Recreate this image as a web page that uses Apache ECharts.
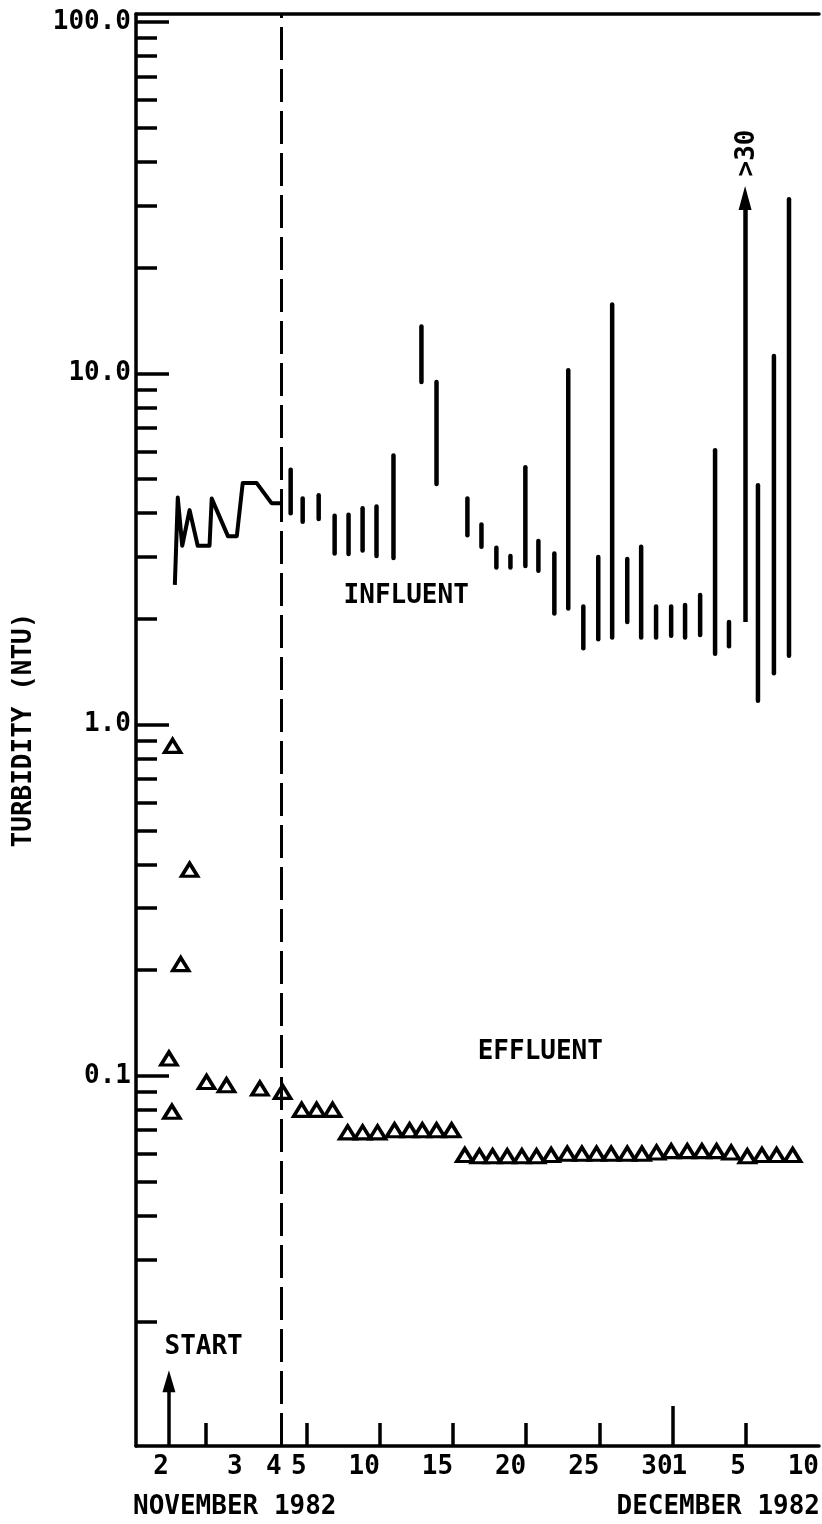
<!DOCTYPE html>
<html>
<head>
  <meta charset="utf-8">
  <title>Turbidity</title>
  <script src="https://cdn.jsdelivr.net/npm/echarts@6.0.0/dist/echarts.min.js"></script>
  <style>html,body{margin:0;padding:0;background:#fff;}</style>
</head>
<body>
  <div id="main" style="width:822px;height:1524px;"></div>
  <script type="text/javascript">
    // x axis: days counted from 1 Nov 1982 (Dec d = 30 + d); first days are drawn stretched
    var dayKnots = [2, 3, 4, 5, 40];
    var posKnots = [-4.41, 0.63, 3.29, 5, 40];

    var xLabelDays = [2, 3, 4, 5, 10, 15, 20, 25, 30, 31, 35, 40];
    var xLabels = ['2', '3', '4', '5', '10', '15', '20', '25', '30', '1', '5', '10'];
    var xTickDays = [2.5, 5, 10, 15, 20, 25, 35];
    var xLongTickDays = [30];

    var yLabelValues = [0.1, 1, 10, 100];
    var yMinorValues = [0.02, 0.03, 0.04, 0.05, 0.06, 0.07, 0.08, 0.09,
                        0.2, 0.3, 0.4, 0.5, 0.6, 0.7, 0.8, 0.9,
                        2, 3, 4, 5, 6, 7, 8, 9,
                        20, 30, 40, 50, 60, 70, 80, 90];

    // influent, continuous record at start-up
    var traceDays = [2.08, 2.12, 2.18, 2.28, 2.39, 2.55, 2.58, 2.80, 2.92, 3.0, 3.36, 3.74, 4.0];
    var traceValues = [2.5, 4.43, 3.23, 4.08, 3.23, 3.23, 4.4, 3.44, 3.44, 4.87, 4.87, 4.27, 4.27];

    // influent, daily range
    var infDays = [4.36, 4.84, 5.82, 6.91, 7.86, 8.82, 9.77, 10.93, 12.84, 13.87,
                   15.98, 16.94, 17.96, 18.92, 19.94, 20.83, 21.92, 22.87, 23.9, 24.92,
                   25.87, 26.9, 27.85, 28.87, 29.9, 30.85, 31.88, 32.9, 33.85,
                   35.83, 36.92, 37.95];
    var infLow = [4.0, 3.78, 3.85, 3.07, 3.06, 3.13, 3.02, 2.98, 9.45, 4.84,
                  3.46, 3.21, 2.8, 2.8, 2.83, 2.74, 2.07, 2.14, 1.65, 1.75,
                  1.77, 1.96, 1.77, 1.77, 1.79, 1.77, 1.8, 1.59, 1.67,
                  1.17, 1.4, 1.57];
    var infHigh = [5.32, 4.4, 4.5, 3.93, 3.96, 4.13, 4.18, 5.84, 13.6, 9.45,
                   4.4, 3.71, 3.19, 3.02, 5.4, 3.33, 3.07, 10.2, 2.17, 3.0,
                   15.7, 2.96, 3.21, 2.17, 2.17, 2.19, 2.34, 6.04, 1.96,
                   4.8, 11.2, 31.3];
    // the off-scale day (>30)
    var offDay = 34.95, offLow = 1.96, offTop = 31.6;

    // effluent
    var effDays = [2.0, 2.04, 2.05, 2.16, 2.28, 2.51, 2.78, 3.44, 4.04,
                   4.8, 5.68, 6.77,
                   7.8, 8.82, 9.84, 11.0, 12.03, 12.9, 13.87, 14.9,
                   15.8, 16.8, 17.7, 18.7, 19.7, 20.7, 21.7, 22.8, 23.8, 24.8, 25.8, 26.9,
                   27.9, 28.9, 29.9, 31.0, 32.0, 33.0, 34.0, 35.1, 36.1, 37.1, 38.2];
    var effValues = [0.112, 0.079, 0.87, 0.208, 0.386, 0.096, 0.094, 0.092, 0.09,
                     0.08, 0.08, 0.08,
                     0.069, 0.069, 0.069, 0.07, 0.07, 0.07, 0.07, 0.07,
                     0.0595, 0.059, 0.059, 0.059, 0.059, 0.059, 0.0595, 0.06, 0.06, 0.06, 0.06, 0.06,
                     0.06, 0.0605, 0.061, 0.061, 0.061, 0.061, 0.0605, 0.059, 0.0595, 0.0595, 0.0595];

    var startDay = 2, breakDay = 4;

    var FONT = 'DejaVu Sans Mono';
    var yMin = 0.00883, yMax = 105.5;
    var xMin = -6.66, xMax = 40;

    function xPos(d) {
      var i = 0;
      while (i < dayKnots.length - 2 && d > dayKnots[i + 1]) i++;
      var t = (d - dayKnots[i]) / (dayKnots[i + 1] - dayKnots[i]);
      return posKnots[i] + t * (posKnots[i + 1] - posKnots[i]);
    }

    var labelByPos = {};
    xLabelDays.forEach(function (d, i) { labelByPos[xPos(d).toFixed(3)] = xLabels[i]; });

    var traceData = traceDays.map(function (d, i) { return [xPos(d), traceValues[i]]; });
    var rangeData = infDays.map(function (d, i) { return [xPos(d), infLow[i], infHigh[i]]; });
    var effData = effDays.map(function (d, i) { return [xPos(d), effValues[i]]; });

    var black = {color: '#000', width: 3.5};
    var txt = {color: '#000', fontFamily: FONT, fontSize: 26, fontWeight: 'bold'};

    var myChart = echarts.init(document.getElementById('main'));

    var option = {
      animation: false,
      backgroundColor: '#fff',
      grid: {left: 136, right: 2, top: 14, bottom: 78},
      xAxis: [{
        type: 'value', min: xMin, max: xMax, position: 'bottom',
        axisLine: {show: true, onZero: false, lineStyle: black},
        axisTick: {show: true, inside: true, length: 23, customValues: xTickDays.map(xPos), lineStyle: black},
        axisLabel: Object.assign({
          customValues: xLabelDays.map(xPos),
          formatter: function (v) { return labelByPos[Number(v).toFixed(3)] || ''; },
          align: 'right', margin: 8
        }, txt),
        splitLine: {show: false}
      }, {
        type: 'value', min: xMin, max: xMax, position: 'bottom',
        axisLine: {show: false, onZero: false},
        axisTick: {show: true, inside: true, length: 40, customValues: xLongTickDays.map(xPos), lineStyle: black},
        axisLabel: {show: false},
        splitLine: {show: false}
      }, {
        type: 'value', min: xMin, max: xMax, position: 'top',
        axisLine: {show: true, onZero: false, lineStyle: black},
        axisTick: {show: false}, axisLabel: {show: false}, splitLine: {show: false}
      }],
      yAxis: [{
        type: 'log', logBase: 10, min: yMin, max: yMax, position: 'left',
        name: 'TURBIDITY (NTU)', nameLocation: 'middle', nameRotate: 90, nameGap: 99,
        nameTextStyle: txt,
        axisLine: {show: true, onZero: false, lineStyle: black},
        axisTick: {show: true, inside: true, length: 33, customValues: yLabelValues, lineStyle: black},
        axisLabel: Object.assign({
          customValues: yLabelValues,
          formatter: function (v) { return v >= 1 ? Number(v).toFixed(1) : String(v); },
          margin: 5
        }, txt),
        splitLine: {show: false}, minorTick: {show: false}
      }, {
        type: 'log', logBase: 10, min: yMin, max: yMax, position: 'left',
        axisLine: {show: false, onZero: false},
        axisTick: {show: true, inside: true, length: 21, customValues: yMinorValues, lineStyle: black},
        axisLabel: {show: false},
        splitLine: {show: false}
      }],
      series: [{
        name: 'influent record',
        type: 'line',
        data: traceData,
        showSymbol: false,
        lineStyle: {color: '#000', width: 4, join: 'round'},
        silent: true
      }, {
        name: 'influent range',
        type: 'custom',
        data: rangeData,
        encode: {x: 0, y: [1, 2]},
        silent: true,
        renderItem: function (params, api) {
          var lo = api.coord([api.value(0), api.value(1)]);
          var hi = api.coord([api.value(0), api.value(2)]);
          return {
            type: 'line',
            shape: {x1: lo[0], y1: lo[1], x2: hi[0], y2: hi[1]},
            style: {stroke: '#000', lineWidth: 4.5, lineCap: 'round'}
          };
        }
      }, {
        name: 'effluent',
        type: 'scatter',
        data: effData,
        symbol: 'triangle',
        symbolSize: [16, 13],
        itemStyle: {color: '#fff', borderColor: '#000', borderWidth: 3.5, opacity: 1},
        silent: true,
        markLine: {
          silent: true,
          animation: false,
          label: {show: false},
          symbol: 'none',
          data: [
            [{coord: [xPos(breakDay), yMin], lineStyle: {color: '#000', width: 3, type: [33, 9]}},
             {coord: [xPos(breakDay), yMax]}],
            [{coord: [xPos(startDay), yMin], symbol: 'none', lineStyle: {color: '#000', width: 3.5, type: 'solid'}},
             {coord: [xPos(startDay), 0.0135], symbol: 'triangle', symbolSize: [13, 22]}],
            [{coord: [xPos(offDay), offLow], symbol: 'none', lineStyle: {color: '#000', width: 4.5, type: 'solid'}},
             {coord: [xPos(offDay), offTop], symbol: 'triangle', symbolSize: [13, 24]}]
          ]
        }
      }, {
        name: 'notes',
        type: 'scatter',
        symbolSize: 0,
        silent: true,
        itemStyle: {opacity: 1},
        label: Object.assign({show: true, position: 'inside', formatter: '{b}', opacity: 1}, txt),
        data: [
          {name: 'INFLUENT', value: [xPos(11.8), 2.32]},
          {name: 'EFFLUENT', value: [xPos(20.96), 0.117]},
          {name: 'START', value: [xPos(2.47), 0.0169]},
          {name: '>30', value: [xPos(35.08), 42.4], label: {rotate: 90}}
        ]
      }],
      graphic: [
        {type: 'text', left: 133, top: 1494, style: {text: 'NOVEMBER 1982', fill: '#000', fontFamily: FONT, fontSize: 26, fontWeight: 'bold'}},
        {type: 'text', right: 2, top: 1494, style: {text: 'DECEMBER 1982', fill: '#000', fontFamily: FONT, fontSize: 26, fontWeight: 'bold'}}
      ]
    };

    myChart.setOption(option);
  </script>
</body>
</html>
